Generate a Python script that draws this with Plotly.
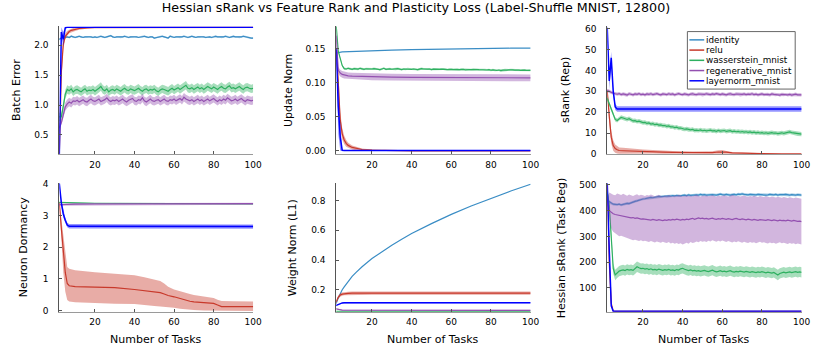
import plotly.graph_objects as go

# ---------------- data ----------------
tasks = list(range(1, 101))
names = ["identity", "relu", "wasserstein_mnist", "regenerative_mnist", "layernorm_mnist"]
colors = {"identity": "#3a8dc5", "relu": "#c8392b", "wasserstein_mnist": "#2eb060",
          "regenerative_mnist": "#9350b0", "layernorm_mnist": "#0000ff"}

# Panel 1: Batch Error
be_identity = [2.10, 2.10, 2.12, 2.14, 2.13, 2.14, 2.13, 2.15, 2.14, 2.13,
               2.14, 2.15, 2.14, 2.13, 2.14, 2.14, 2.15, 2.14, 2.13, 2.14,
               2.13, 2.14, 2.15, 2.14, 2.13, 2.14, 2.15, 2.16, 2.14, 2.13,
               2.14, 2.14, 2.13, 2.14, 2.15, 2.14, 2.13, 2.14, 2.14, 2.15,
               2.14, 2.13, 2.14, 2.14, 2.15, 2.14, 2.13, 2.14, 2.14, 2.12,
               2.13, 2.14, 2.14, 2.15, 2.14, 2.13, 2.12, 2.15, 2.14, 2.13,
               2.14, 2.14, 2.13, 2.14, 2.15, 2.14, 2.13, 2.14, 2.15, 2.14,
               2.13, 2.14, 2.14, 2.15, 2.14, 2.13, 2.14, 2.14, 2.13, 2.14,
               2.15, 2.14, 2.14, 2.13, 2.14, 2.15, 2.14, 2.13, 2.14, 2.15,
               2.14, 2.14, 2.13, 2.14, 2.15, 2.14, 2.13, 2.13, 2.12, 2.12]
be_identity_sd = 0.015
be_relu_x = [1, 2, 3, 4, 5, 6, 7, 8, 9, 10, 12, 14, 16, 18, 20, 100]
be_relu = [0.18, 0.20, 1.55, 2.02, 2.15, 2.20, 2.23, 2.25, 2.26, 2.27, 2.28, 2.287, 2.293, 2.297, 2.30, 2.30]
be_relu_sd = [0.0, 0.02, 0.15, 0.08, 0.05, 0.04, 0.03, 0.03, 0.03, 0.03, 0.02, 0.02, 0.015, 0.01, 0.01, 0.01]
be_wass = [0.80, 0.80, 0.80, 0.98, 1.18, 1.26, 1.24, 1.27, 1.22, 1.25,
           1.26, 1.24, 1.22, 1.25, 1.27, 1.23, 1.25, 1.24, 1.26, 1.23,
           1.25, 1.28, 1.31, 1.26, 1.24, 1.27, 1.22, 1.25, 1.26, 1.24,
           1.27, 1.25, 1.23, 1.26, 1.28, 1.25, 1.24, 1.27, 1.25, 1.24,
           1.26, 1.28, 1.25, 1.23, 1.26, 1.27, 1.24, 1.26, 1.25, 1.27,
           1.24, 1.22, 1.25, 1.27, 1.26, 1.24, 1.23, 1.26, 1.28, 1.25,
           1.27, 1.29, 1.26, 1.28, 1.31, 1.33, 1.28, 1.27, 1.29, 1.26,
           1.28, 1.30, 1.27, 1.29, 1.26, 1.28, 1.31, 1.29, 1.27, 1.30,
           1.28, 1.26, 1.29, 1.31, 1.28, 1.27, 1.30, 1.32, 1.28, 1.29,
           1.27, 1.29, 1.31, 1.28, 1.26, 1.29, 1.30, 1.28, 1.27, 1.28]
be_wass_sd = 0.07
be_regen = [0.62, 0.62, 0.70, 0.85, 0.97, 1.02, 1.05, 1.03, 1.07, 1.06,
            1.08, 1.05, 1.07, 1.09, 1.06, 1.05, 1.08, 1.10, 1.07, 1.06,
            1.08, 1.10, 1.06, 1.07, 1.09, 1.12, 1.08, 1.06, 1.08, 1.07,
            1.09, 1.06, 1.08, 1.10, 1.07, 1.05, 1.08, 1.09, 1.11, 1.07,
            1.06, 1.09, 1.08, 1.12, 1.07, 1.05, 1.08, 1.10, 1.07, 1.06,
            1.08, 1.09, 1.06, 1.08, 1.10, 1.07, 1.06, 1.09, 1.08, 1.10,
            1.07, 1.09, 1.11, 1.08, 1.13, 1.10, 1.08, 1.07, 1.09, 1.06,
            1.08, 1.10, 1.07, 1.09, 1.06, 1.08, 1.10, 1.07, 1.09, 1.11,
            1.08, 1.06, 1.09, 1.07, 1.10, 1.08, 1.12, 1.09, 1.07, 1.08,
            1.10, 1.07, 1.09, 1.11, 1.08, 1.06, 1.09, 1.08, 1.07, 1.08]
be_regen_sd = 0.07
be_ln_x = [1, 2, 3, 4, 5, 6, 100]
be_ln = [0.18, 0.19, 2.22, 2.10, 2.29, 2.30, 2.30]
be_ln_sd = [0.0, 0.02, 0.08, 0.12, 0.02, 0.005, 0.005]

# Panel 2: Update Norm
un_identity_x = [1, 2, 3, 5, 10, 20, 30, 40, 50, 60, 70, 80, 90, 100]
un_identity = [0.143, 0.143, 0.144, 0.145, 0.1457, 0.1468, 0.1476, 0.1483, 0.1489, 0.1494, 0.1498, 0.1502, 0.1505, 0.1507]
un_relu_x = [1, 2, 3, 4, 5, 6, 7, 8, 10, 12, 15, 20, 25, 30, 40, 100]
un_relu = [0.148, 0.148, 0.10, 0.045, 0.025, 0.016, 0.011, 0.008, 0.005, 0.0035, 0.002, 0.001, 0.0006, 0.0003, 0.0001, 0.0]
un_relu_sd = [0.0, 0.002, 0.02, 0.012, 0.008, 0.006, 0.005, 0.004, 0.003, 0.0025, 0.0015, 0.001, 0.0006, 0.0003, 0.0001, 0.0]
un_wass = [0.182, 0.182, 0.146, 0.135, 0.125, 0.1205, 0.1200, 0.1210, 0.1200, 0.1195,
           0.1205, 0.1200, 0.1198, 0.1210, 0.1200, 0.1195, 0.1203, 0.1200, 0.1192, 0.1200,
           0.1205, 0.1198, 0.1200, 0.1190, 0.1200, 0.1210, 0.1195, 0.1200, 0.1202, 0.1196,
           0.1200, 0.1195, 0.1205, 0.1198, 0.1192, 0.1200, 0.1196, 0.1203, 0.1198, 0.1194,
           0.1200, 0.1196, 0.1190, 0.1198, 0.1205, 0.1200, 0.1194, 0.1197, 0.1200, 0.1192,
           0.1198, 0.1195, 0.1200, 0.1193, 0.1197, 0.1200, 0.1194, 0.1190, 0.1197, 0.1195,
           0.1192, 0.1198, 0.1194, 0.1190, 0.1196, 0.1193, 0.1188, 0.1195, 0.1192, 0.1190,
           0.1194, 0.1188, 0.1192, 0.1190, 0.1186, 0.1192, 0.1188, 0.1185, 0.1190, 0.1182,
           0.1188, 0.1180, 0.1178, 0.1185, 0.1176, 0.1182, 0.1188, 0.1184, 0.1186, 0.1190,
           0.1186, 0.1182, 0.1188, 0.1184, 0.1180, 0.1185, 0.1182, 0.1178, 0.1180, 0.1180]
un_wass_sd = 0.0015
un_regen_x = [1, 2, 3, 4, 5, 6, 8, 10, 15, 20, 30, 40, 50, 60, 70, 80, 90, 100]
un_regen = [0.170, 0.168, 0.118, 0.114, 0.112, 0.111, 0.110, 0.1095, 0.109, 0.1085, 0.108, 0.1078, 0.1075, 0.1075, 0.1072, 0.107, 0.107, 0.107]
un_regen_sd = 0.005
un_ln_x = [1, 2, 3, 4, 5, 6, 100]
un_ln = [0.148, 0.148, 0.065, 0.020, 0.0008, 0.0005, 0.0005]
un_ln_sd = [0.0, 0.003, 0.04, 0.02, 0.001, 0.0003, 0.0003]

# Panel 3: sRank (Rep)
sr_relu_x = [1, 2, 3, 4, 5, 6, 7, 8, 10, 12, 15, 20, 25, 30, 35, 40, 45, 50, 55, 58, 60, 62, 65, 70, 75, 80, 90, 100]
sr_relu = [31, 30, 18, 8, 4, 2.5, 2.0, 1.6, 1.5, 1.4, 1.3, 1.1, 1.0, 0.8, 0.7, 0.6, 0.5, 0.5, 0.6, 0.9, 1.0, 0.8, 0.5, 0.3, 0.2, 0.1, 0.05, 0.02]
sr_relu_sd = [0, 1, 4, 3, 2.5, 2.0, 1.8, 1.5, 1.4, 1.3, 1.1, 1.0, 0.8, 0.7, 0.6, 0.5, 0.5, 0.5, 0.6, 0.8, 0.8, 0.6, 0.4, 0.3, 0.2, 0.1, 0.05, 0.02]
sr_wass = [27.0, 26.5, 24.0, 21.5, 19.0, 16.5, 16.0, 17.0, 17.5, 17.2,
           16.8, 16.5, 16.9, 16.2, 15.8, 15.9, 15.5, 15.7, 15.2, 15.0,
           15.1, 14.6, 14.8, 14.3, 14.5, 14.0, 14.2, 13.8, 13.9, 13.5,
           13.6, 13.2, 13.4, 12.9, 13.0, 12.6, 12.8, 12.3, 12.4, 12.0,
           11.8, 12.0, 11.6, 11.5, 11.7, 11.3, 11.4, 11.2, 11.5, 11.1,
           11.3, 11.0, 11.2, 11.4, 11.0, 11.1, 10.8, 11.2, 10.9, 11.0,
           11.2, 10.8, 10.9, 11.1, 10.7, 10.9, 10.6, 10.8, 10.5, 10.7,
           10.4, 10.6, 10.3, 10.5, 10.2, 10.4, 10.1, 10.3, 10.0, 10.2,
           9.9, 10.1, 9.8, 10.0, 10.2, 9.9, 10.0, 9.7, 9.9, 10.1,
           9.8, 10.0, 10.3, 10.5, 10.2, 10.0, 9.8, 9.6, 9.4, 9.5]
sr_wass_sd = 1.0
sr_regen = [30.8, 30.5, 30.0, 29.5, 29.0, 28.8, 28.6, 28.9, 28.4, 28.7,
            28.5, 28.2, 28.8, 28.6, 28.3, 28.7, 28.5, 28.9, 28.4, 28.6,
            28.3, 28.7, 28.5, 28.8, 28.4, 28.6, 28.9, 28.5, 28.3, 28.7,
            28.6, 28.4, 28.8, 28.5, 28.7, 28.3, 28.6, 28.9, 28.5, 28.4,
            28.7, 28.5, 28.3, 28.6, 28.8, 28.5, 28.4, 28.7, 28.6, 28.3,
            28.5, 28.8, 28.6, 28.4, 28.7, 28.5, 28.9, 28.6, 28.4, 28.7,
            28.5, 28.3, 28.6, 28.8, 28.5, 28.4, 28.7, 28.6, 28.3, 28.5,
            28.7, 28.4, 28.6, 28.5, 28.8, 28.4, 28.6, 28.3, 28.5, 28.7,
            28.4, 28.6, 28.5, 28.3, 28.7, 28.5, 28.4, 28.6, 28.2, 28.5,
            28.4, 28.6, 28.3, 28.5, 28.2, 28.4, 28.6, 28.3, 28.4, 28.3]
sr_regen_sd = 0.8
sr_ln_x = [1, 2, 3, 4, 5, 6, 7, 8, 100]
sr_ln = [61, 60, 35, 46, 30, 22.5, 21.5, 21.5, 21.5]
sr_ln_sd = [0, 1, 4, 3, 2, 1.5, 1.3, 1.3, 1.3]

# Panel 4: Neuron Dormancy
nd_relu_x = [1, 2, 3, 4, 5, 6, 7, 10, 20, 30, 40, 45, 50, 53, 55, 57, 60, 63, 65, 68, 70, 75, 80, 82, 84, 90, 100]
nd_relu = [3.40, 3.40, 2.60, 1.80, 1.20, 0.85, 0.78, 0.75, 0.74, 0.72, 0.66, 0.62, 0.60, 0.56, 0.52, 0.47, 0.43, 0.37, 0.33, 0.29, 0.27, 0.25, 0.22, 0.17, 0.12, 0.12, 0.12]
nd_relu_hi = [3.40, 3.42, 2.90, 2.40, 1.80, 1.37, 1.32, 1.27, 1.21, 1.16, 1.11, 1.05, 0.98, 0.93, 0.85, 0.75, 0.66, 0.60, 0.56, 0.52, 0.49, 0.44, 0.39, 0.34, 0.30, 0.29, 0.28]
nd_relu_lo = [3.40, 3.38, 2.30, 1.20, 0.60, 0.33, 0.28, 0.26, 0.23, 0.21, 0.20, 0.17, 0.14, 0.12, 0.10, 0.09, 0.08, 0.05, 0.03, 0.02, 0.01, 0.0, -0.02, -0.02, -0.02, -0.02, -0.02]
nd_wass_x = [1, 2, 3, 5, 10, 20, 40, 60, 80, 100]
nd_wass = [3.42, 3.42, 3.41, 3.40, 3.40, 3.39, 3.385, 3.38, 3.375, 3.37]
nd_wass_sd = 0.01
nd_regen_x = [1, 2, 3, 5, 10, 20, 40, 60, 80, 100]
nd_regen = [3.34, 3.34, 3.35, 3.36, 3.36, 3.365, 3.37, 3.37, 3.37, 3.375]
nd_regen_sd = 0.03
nd_ln_x = [1, 2, 3, 4, 5, 6, 7, 100]
nd_ln = [4.02, 4.00, 3.40, 3.05, 2.85, 2.70, 2.66, 2.65]
nd_ln_sd = [0, 0.02, 0.1, 0.1, 0.08, 0.07, 0.07, 0.07]

# Panel 5: Weight Norm (L1)
wn_identity_x = [1, 2, 3, 4, 5, 6, 8, 10, 12, 15, 20, 25, 30, 35, 40, 50, 60, 70, 80, 90, 100]
wn_identity = [0.10, 0.11, 0.145, 0.175, 0.20, 0.22, 0.257, 0.29, 0.317, 0.355, 0.41, 0.457, 0.50, 0.54, 0.578, 0.645, 0.707, 0.763, 0.815, 0.864, 0.91]
wn_relu_x = [1, 2, 3, 4, 5, 6, 8, 10, 20, 100]
wn_relu = [0.11, 0.12, 0.15, 0.165, 0.171, 0.174, 0.176, 0.177, 0.178, 0.178]
wn_relu_sd = 0.011
wn_wass_x = [1, 2, 100]
wn_wass = [0.055, 0.055, 0.055]
wn_regen_x = [1, 2, 3, 4, 5, 100]
wn_regen = [0.075, 0.072, 0.068, 0.065, 0.063, 0.062]
wn_regen_sd = 0.003
wn_ln_x = [1, 2, 3, 4, 5, 6, 100]
wn_ln = [0.09, 0.095, 0.105, 0.110, 0.112, 0.113, 0.113]
wn_ln_sd = 0.003

# Panel 6: Hessian sRank (Task Beg)
hs_identity = [445, 440, 432, 428, 425, 424, 423, 425, 422, 424,
               426, 428, 427, 431, 433, 436, 438, 441, 443, 445,
               446, 448, 449, 451, 450, 452, 453, 455, 454, 455,
               456, 455, 457, 456, 458, 457, 459, 458, 457, 459,
               460, 458, 461, 459, 460, 462, 461, 460, 463, 461,
               462, 460, 461, 463, 462, 461, 460, 462, 464, 462,
               461, 463, 462, 460, 462, 463, 461, 464, 463, 465,
               463, 462, 461, 463, 462, 460, 461, 463, 462, 461,
               462, 460, 461, 463, 462, 461, 463, 460, 462, 461,
               462, 463, 461, 460, 462, 461, 460, 462, 461, 460]
hs_identity_sd = 5
hs_relu_x = [1, 2, 3, 4, 5, 6, 100]
hs_relu = [505, 500, 200, 40, 10, 9, 9]
hs_wass = [480, 470, 420, 300, 175, 150, 158, 165, 168, 170,
           167, 172, 169, 171, 168, 174, 182, 178, 175, 176,
           173, 175, 171, 174, 170, 172, 169, 173, 170, 168,
           171, 169, 172, 168, 170, 167, 171, 169, 174, 176,
           172, 169, 167, 170, 166, 168, 165, 167, 164, 166,
           168, 165, 163, 166, 169, 165, 162, 164, 167, 163,
           165, 162, 164, 167, 163, 161, 164, 162, 165, 163,
           161, 164, 162, 160, 163, 161, 159, 162, 160, 163,
           160, 158, 161, 159, 157, 160, 155, 150, 156, 159,
           161, 158, 160, 162, 159, 161, 163, 160, 162, 160]
hs_wass_sd = 20
hs_regen = [440, 440, 400, 392, 388, 385, 383, 381, 382, 380,
            378, 376, 374, 372, 373, 370, 372, 369, 367, 368,
            366, 367, 365, 363, 366, 364, 362, 365, 363, 361,
            364, 362, 365, 363, 366, 364, 367, 365, 363, 366,
            364, 367, 365, 368, 370, 366, 368, 372, 369, 371,
            368, 370, 367, 369, 371, 368, 366, 369, 367, 370,
            368, 366, 369, 367, 365, 368, 370, 367, 365, 368,
            366, 364, 367, 365, 363, 366, 364, 362, 365, 363,
            364, 362, 365, 363, 361, 364, 362, 360, 363, 361,
            362, 360, 363, 361, 359, 362, 360, 358, 359, 357]
hs_regen_hi = [440, 445, 470, 465, 462, 460, 466, 464, 461, 465,
               462, 458, 463, 460, 457, 461, 464, 459, 462, 460,
               457, 461, 459, 463, 460, 456, 459, 462, 458, 455,
               459, 457, 461, 458, 455, 460, 457, 462, 459, 456,
               458, 461, 457, 459, 456, 460, 463, 458, 455, 459,
               457, 460, 456, 458, 461, 457, 455, 459, 456, 458,
               460, 457, 455, 458, 462, 459, 456, 458, 455, 457,
               459, 456, 454, 457, 455, 458, 456, 453, 457, 455,
               453, 456, 454, 452, 455, 453, 451, 454, 452, 450,
               453, 451, 449, 452, 450, 448, 451, 449, 447, 446]
hs_regen_lo = [440, 435, 370, 330, 318, 310, 305, 300, 302, 298,
               295, 292, 290, 288, 285, 287, 284, 282, 285, 281,
               283, 280, 278, 282, 279, 276, 280, 277, 275, 279,
               276, 274, 278, 272, 275, 271, 274, 270, 273, 268,
               272, 275, 271, 278, 274, 276, 280, 277, 282, 279,
               281, 278, 283, 280, 285, 282, 279, 283, 280, 284,
               281, 278, 282, 279, 276, 280, 277, 281, 278, 275,
               279, 276, 274, 278, 275, 277, 273, 276, 279, 275,
               277, 274, 272, 276, 273, 275, 271, 274, 277, 273,
               275, 272, 270, 274, 271, 273, 269, 272, 270, 268]
hs_ln_x = [1, 2, 3, 4, 5, 6, 100]
hs_ln = [505, 505, 250, 30, 9, 9, 9]

y_titles = ["Batch Error", "Update Norm", "sRank (Rep)",
            "Neuron Dormancy", "Weight Norm (L1)", "Hessian sRank (Task Beg)"]
x_title = "Number of Tasks"
x_ticks = [20, 40, 60, 80, 100]
title = "Hessian sRank vs Feature Rank and Plasticity Loss (Label-Shuffle MNIST, 12800)"

# ---------------- figure ----------------
W, H = 822, 353
fig = go.Figure()

def hexrgba(h, a):
    h = h.lstrip("#")
    return "rgba(%d,%d,%d,%.2f)" % (int(h[0:2], 16), int(h[2:4], 16), int(h[4:6], 16), a)

def as_list(v, n):
    return list(v) if isinstance(v, (list, tuple)) else [v] * n

def add_series(panel, name, x, y, sd=None, lo=None, hi=None, width=1.2):
    xa = "x" if panel == 1 else "x%d" % panel
    ya = "y" if panel == 1 else "y%d" % panel
    c = colors[name]
    if sd is not None:
        s = as_list(sd, len(y))
        lo = [a - b for a, b in zip(y, s)]
        hi = [a + b for a, b in zip(y, s)]
    if lo is not None:
        fig.add_trace(go.Scatter(x=list(x) + list(x)[::-1], y=list(hi) + list(lo)[::-1],
                                 fill="toself", fillcolor=hexrgba(c, 0.42), line=dict(width=0),
                                 mode="lines", hoverinfo="skip", showlegend=False,
                                 xaxis=xa, yaxis=ya))
    fig.add_trace(go.Scatter(x=x, y=y, mode="lines", name=name, legendgroup=name,
                             line=dict(color=c, width=width),
                             showlegend=False, xaxis=xa, yaxis=ya))

# panel 1
add_series(1, "identity", tasks, be_identity, sd=be_identity_sd)
add_series(1, "relu", be_relu_x, be_relu, sd=be_relu_sd)
add_series(1, "wasserstein_mnist", tasks, be_wass, sd=be_wass_sd)
add_series(1, "regenerative_mnist", tasks, be_regen, sd=be_regen_sd)
add_series(1, "layernorm_mnist", be_ln_x, be_ln, sd=be_ln_sd, width=1.5)
# panel 2
add_series(2, "identity", un_identity_x, un_identity)
add_series(2, "relu", un_relu_x, un_relu, sd=un_relu_sd)
add_series(2, "wasserstein_mnist", tasks, un_wass, sd=un_wass_sd)
add_series(2, "regenerative_mnist", un_regen_x, un_regen, sd=un_regen_sd)
add_series(2, "layernorm_mnist", un_ln_x, un_ln, sd=un_ln_sd, width=1.5)
# panel 3
add_series(3, "relu", sr_relu_x, sr_relu, sd=sr_relu_sd)
add_series(3, "wasserstein_mnist", tasks, sr_wass, sd=sr_wass_sd)
add_series(3, "regenerative_mnist", tasks, sr_regen, sd=sr_regen_sd)
add_series(3, "layernorm_mnist", sr_ln_x, sr_ln, sd=sr_ln_sd, width=1.5)
# panel 4
add_series(4, "relu", nd_relu_x, nd_relu, lo=nd_relu_lo, hi=nd_relu_hi)
add_series(4, "wasserstein_mnist", nd_wass_x, nd_wass, sd=nd_wass_sd)
add_series(4, "regenerative_mnist", nd_regen_x, nd_regen, sd=nd_regen_sd)
add_series(4, "layernorm_mnist", nd_ln_x, nd_ln, sd=nd_ln_sd, width=1.5)
# panel 5
add_series(5, "identity", wn_identity_x, wn_identity)
add_series(5, "relu", wn_relu_x, wn_relu, sd=wn_relu_sd)
add_series(5, "wasserstein_mnist", wn_wass_x, wn_wass)
add_series(5, "regenerative_mnist", wn_regen_x, wn_regen, sd=wn_regen_sd)
add_series(5, "layernorm_mnist", wn_ln_x, wn_ln, sd=wn_ln_sd, width=1.5)
# panel 6
add_series(6, "identity", tasks, hs_identity, sd=hs_identity_sd)
add_series(6, "relu", hs_relu_x, hs_relu)
add_series(6, "wasserstein_mnist", tasks, hs_wass, sd=hs_wass_sd)
add_series(6, "regenerative_mnist", tasks, hs_regen, lo=hs_regen_lo, hi=hs_regen_hi)
add_series(6, "layernorm_mnist", hs_ln_x, hs_ln, width=1.5)

# layout geometry (pixels)
cols = [(60, 256), (340, 536.5), (614, 810.5)]
rows = [(23, 154), (184, 315.7)]
yranges = [[0.179, 2.315], [-0.0047, 0.1824], [-0.1, 61.1],
           [-0.04, 4.02], [0.053, 0.916], [7.6, 506]]
yticks = [([0.5, 1.0, 1.5, 2.0], ".1f"), ([0, 0.05, 0.10, 0.15], ".2f"),
          ([0, 10, 20, 30, 40, 50, 60], "d"), ([0, 1, 2, 3, 4], "d"),
          ([0.2, 0.4, 0.6, 0.8], ".1f"), ([100, 200, 300, 400, 500], "d")]
ytitle_x = [16, 291, 572, 24, 296, 568]

font = "DejaVu Sans"
layout = dict(width=W, height=H, margin=dict(l=0, r=0, t=0, b=0),
              paper_bgcolor="white", plot_bgcolor="white",
              font=dict(family=font, size=9, color="black"),
              title=dict(text=title, x=416 / W, y=1 - 7.5 / H, xanchor="center", yanchor="middle",
                         font=dict(family=font, size=12.7, color="black")),
              showlegend=False)
annotations = []
shapes = []
for i in range(6):
    r, c = divmod(i, 3)
    x0, x1 = cols[c]
    t0, t1 = rows[r]
    sfx = "" if i == 0 else str(i + 1)
    layout["xaxis" + sfx] = dict(domain=[x0 / W, x1 / W], range=[2, 100], anchor="y" + sfx,
                                 tickvals=x_ticks, showline=True, linecolor="#9a9a9a", linewidth=1,
                                 ticks="inside", ticklen=3, tickcolor="#555", showgrid=False,
                                 zeroline=False, tickfont=dict(size=9), ticklabelstandoff=2)
    tv, fmt = yticks[i]
    layout["yaxis" + sfx] = dict(domain=[1 - t1 / H, 1 - t0 / H], range=yranges[i], anchor="x" + sfx,
                                 tickvals=tv, tickformat=fmt, showline=True, linecolor="#555",
                                 linewidth=1, ticks="inside", ticklen=3, tickcolor="#555",
                                 showgrid=False, zeroline=False, tickfont=dict(size=9),
                                 ticklabelstandoff=8)
    annotations.append(dict(text=y_titles[i], textangle=-90, x=ytitle_x[i] / W,
                            y=1 - (t0 + t1) / 2 / H, xref="paper", yref="paper",
                            xanchor="center", yanchor="middle", showarrow=False,
                            font=dict(family=font, size=11)))
    if r == 1:
        annotations.append(dict(text=x_title, x=(x0 + x1) / 2 / W, y=1 - 344 / H,
                                xref="paper", yref="paper", xanchor="center", yanchor="middle",
                                showarrow=False, font=dict(family=font, size=11)))

# legend box inside the sRank panel (drawn as a framed key)
lg_left, lg_right, lg_top, lg_bottom = 695, 804, 28.3, 87.3
shapes.append(dict(type="rect", xref="paper", yref="paper", x0=lg_left / W, x1=lg_right / W,
                   y0=1 - lg_bottom / H, y1=1 - lg_top / H, line=dict(color="#666", width=1),
                   fillcolor="white", layer="above"))
for k, nm in enumerate(names):
    yy = 36.8 + 10.5 * k
    shapes.append(dict(type="line", xref="paper", yref="paper", x0=697 / W, x1=712 / W,
                       y0=1 - yy / H, y1=1 - yy / H, line=dict(color=colors[nm], width=1.5),
                       layer="above"))
    annotations.append(dict(text=nm, x=712.5 / W, y=1 - yy / H, xref="paper", yref="paper",
                            xanchor="left", yanchor="middle", showarrow=False, borderpad=0,
                            font=dict(family=font, size=8.8, color="black")))
layout["annotations"] = annotations
layout["shapes"] = shapes
fig.update_layout(**layout)
fig.write_html("out.html", config={"displayModeBar": False},
               post_script="document.body.style.margin='0';document.body.style.padding='0';")
